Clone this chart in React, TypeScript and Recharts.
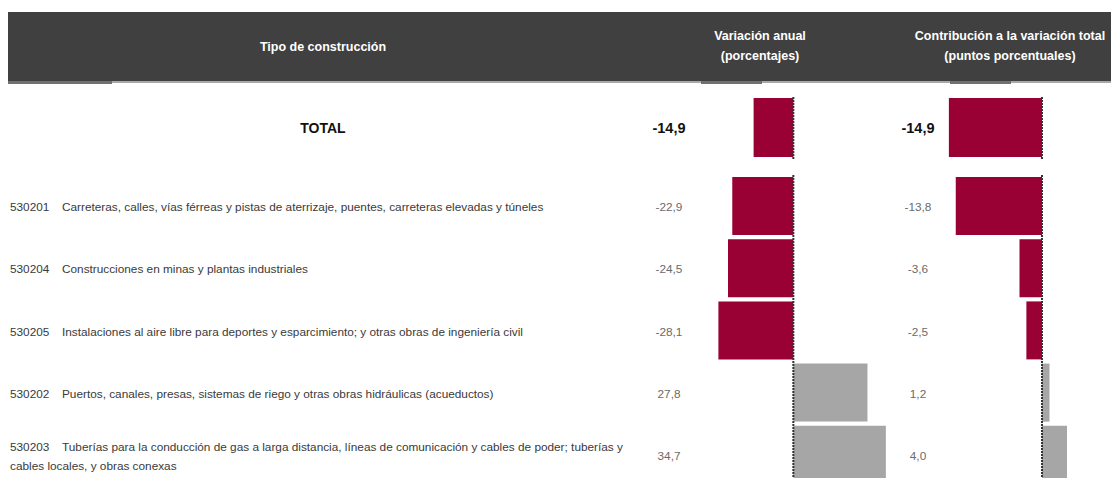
import { BarChart, Bar, XAxis, YAxis, Cell, ReferenceLine } from "recharts";

// Tipo de construcción - variación anual y contribución
const totalCodes = ["TOTAL"];
const totalVariation = [-14.9];
const totalContribution = [-14.9];

const rowCodes = ["530201", "530204", "530205", "530202", "530203"];
const rowLabels = [
  "Carreteras, calles, vías férreas y pistas de aterrizaje, puentes, carreteras elevadas y túneles",
  "Construcciones en minas y plantas industriales",
  "Instalaciones al aire libre para deportes y esparcimiento; y otras obras de ingeniería civil",
  "Puertos, canales, presas, sistemas de riego y otras obras hidráulicas (acueductos)",
  "Tuberías para la conducción de gas a larga distancia, líneas de comunicación y cables de poder; tuberías y|cables locales, y obras conexas",
];
const rowVariation = [-22.9, -24.5, -28.1, 27.8, 34.7];
const rowContribution = [-13.8, -3.6, -2.5, 1.2, 4.0];

const NEG = "#990033";
const POS = "#a6a6a6";
const FONT = "'Liberation Sans Narrow', 'Liberation Sans', Arial, sans-serif";

const fmt = (v: number) => v.toFixed(1).replace(".", ",");

const totalVarData = totalCodes.map((c, i) => ({ code: c, value: totalVariation[i] }));
const totalConData = totalCodes.map((c, i) => ({ code: c, value: totalContribution[i] }));
const rowVarData = rowCodes.map((c, i) => ({ code: c, label: rowLabels[i], value: rowVariation[i] }));
const rowConData = rowCodes.map((c, i) => ({ code: c, value: rowContribution[i] }));

function VarTick(props: any) {
  const { y, payload, data, bold } = props;
  const row = data.find((d: any) => d.code === payload.value);
  if (bold) {
    return (
      <g>
        <text x={315} y={y} dy={5} textAnchor="middle" fontFamily="'Liberation Sans', Arial" fontWeight="bold" fontSize={14} fill="#111">
          {row.code}
        </text>
        <text x={661} y={y} dy={5} textAnchor="middle" fontFamily="'Liberation Sans', Arial" fontWeight="bold" fontSize={14.5} fill="#111">
          {fmt(row.value)}
        </text>
      </g>
    );
  }
  // la última descripción ocupa dos líneas
  const lines = String(row.label).split("|");
  const top = lines.length > 1 ? y - 9 : y;
  return (
    <g fontFamily={FONT} fontSize={11.8}>
      <text x={2} y={top} dy={5} fill="#3a3a3a">
        {row.code}
      </text>
      <text x={54} y={top} dy={5} fill="#3a3a3a">
        {lines[0]}
      </text>
      {lines.length > 1 && (
        <text x={2} y={top + 19} dy={5} fill="#3a3a3a">
          {lines[1]}
        </text>
      )}
      <text x={661} y={y} dy={5} textAnchor="middle" fill="#6b6b6b">
        {fmt(row.value)}
      </text>
    </g>
  );
}

function ConTick(props: any) {
  const { y, payload, data, bold } = props;
  const row = data.find((d: any) => d.code === payload.value);
  return (
    <text
      x={18}
      y={y}
      dy={5}
      textAnchor="middle"
      fontFamily={bold ? "'Liberation Sans', Arial" : FONT}
      fontWeight={bold ? "bold" : "normal"}
      fontSize={bold ? 14.5 : 11.8}
      fill={bold ? "#111" : "#6b6b6b"}
    >
      {fmt(row.value)}
    </text>
  );
}

function VarChart({ data, height, bold }: { data: any[]; height: number; bold?: boolean }) {
  return (
    <BarChart width={892} height={height} data={data} layout="vertical" margin={{ top: 0, right: 0, bottom: 0, left: 0 }} barCategoryGap={2}>
      <XAxis type="number" domain={[-35, 40]} hide />
      <YAxis
        type="category"
        dataKey="code"
        width={692}
        axisLine={false}
        tickLine={false}
        interval={0}
        tick={(p: any) => <VarTick {...p} data={data} bold={bold} />}
      />
      <Bar dataKey="value" isAnimationActive={false}>
        {data.map((d, i) => (
          <Cell key={i} fill={d.value < 0 ? NEG : POS} />
        ))}
      </Bar>
      <ReferenceLine x={0} stroke="#333" strokeWidth={2} strokeDasharray="2 1" />
    </BarChart>
  );
}

function ConChart({ data, height, bold }: { data: any[]; height: number; bold?: boolean }) {
  return (
    <BarChart width={192} height={height} data={data} layout="vertical" margin={{ top: 0, right: 0, bottom: 0, left: 0 }} barCategoryGap={2}>
      <XAxis type="number" domain={[-16, 8]} hide />
      <YAxis
        type="category"
        dataKey="code"
        width={42}
        axisLine={false}
        tickLine={false}
        interval={0}
        tick={(p: any) => <ConTick {...p} data={data} bold={bold} />}
      />
      <Bar dataKey="value" isAnimationActive={false}>
        {data.map((d, i) => (
          <Cell key={i} fill={d.value < 0 ? NEG : POS} />
        ))}
      </Bar>
      <ReferenceLine x={0} stroke="#333" strokeWidth={2} strokeDasharray="2 1" />
    </BarChart>
  );
}

const headStyle: React.CSSProperties = {
  position: "absolute",
  color: "#fff",
  fontFamily: FONT,
  fontWeight: "bold",
  fontSize: 12.5,
  textAlign: "center",
  lineHeight: "20px",
};

export default function App() {
  return (
    <div style={{ position: "relative", width: 1111, height: 470, overflow: "hidden", background: "#fff" }}>
      {/* encabezado */}
      <div style={{ position: "absolute", left: 0, top: 4, width: 1111, height: 69, background: "#404040" }} />
      <div style={{ position: "absolute", left: 0, top: 73, width: 1111, height: 2, background: "#a8a8a8" }} />
      <div style={{ position: "absolute", left: 0, top: 73, width: 104, height: 3, background: "#707070" }} />
      <div style={{ position: "absolute", left: 693, top: 73, width: 61, height: 3, background: "#707070" }} />
      <div style={{ position: "absolute", left: 942, top: 73, width: 61, height: 3, background: "#707070" }} />
      <div style={{ ...headStyle, left: 215, width: 200, top: 29 }}>Tipo de construcción</div>
      <div style={{ ...headStyle, left: 652, width: 200, top: 18 }}>
        Variación anual
        <br />
        (porcentajes)
      </div>
      <div style={{ ...headStyle, left: 882, width: 240, top: 18 }}>
        Contribución a la variación total
        <br />
        (puntos porcentuales)
      </div>

      <div style={{ position: "absolute", left: 0, top: 88 }}>
        <VarChart data={totalVarData} height={63} bold />
      </div>
      <div style={{ position: "absolute", left: 892, top: 88 }}>
        <ConChart data={totalConData} height={63} bold />
      </div>

      <div style={{ position: "absolute", left: 0, top: 167 }}>
        <VarChart data={rowVarData} height={311} />
      </div>
      <div style={{ position: "absolute", left: 892, top: 167 }}>
        <ConChart data={rowConData} height={311} />
      </div>
    </div>
  );
}
